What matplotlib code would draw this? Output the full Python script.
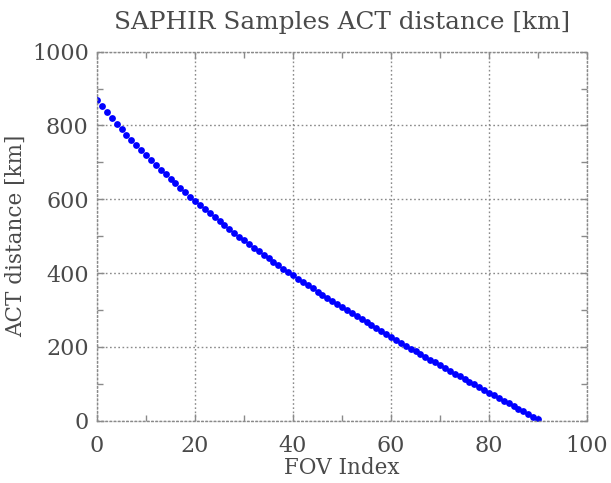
import numpy as np
import matplotlib
matplotlib.use('Agg')
import matplotlib.pyplot as plt
from matplotlib.ticker import MultipleLocator

# 字型設定
plt.rcParams['font.family'] = ['DejaVu Serif']
plt.rcParams['font.size'] = 16

# FOV index 0..90 and across-track distance [km]
fov_index = list(range(91))
act_distance = [
    867.8, 851.5, 835.6, 820.1, 804.9,
    790.0, 775.4, 761.1, 747.0, 733.1,
    719.4, 706.0, 692.9, 680.0, 667.4,
    655.1, 642.9, 630.9, 619.0, 607.3,
    595.8, 584.5, 573.3, 562.3, 551.4,
    540.6, 530.0, 519.5, 509.2, 499.0,
    488.9, 479.0, 469.2, 459.5, 449.8,
    440.2, 430.8, 421.5, 412.3, 403.1,
    393.9, 384.9, 376.0, 367.2, 358.5,
    349.8, 341.2, 332.7, 324.2, 315.7,
    307.2, 298.9, 290.7, 282.5, 274.4,
    266.3, 258.3, 250.3, 242.4, 234.5,
    226.6, 218.8, 211.0, 203.3, 195.6,
    188.0, 180.4, 172.8, 165.2, 157.7,
    150.2, 142.7, 135.2, 127.8, 120.4,
    113.0, 105.6, 98.2, 90.8, 83.5,
    76.2, 68.9, 61.6, 54.3, 47.1,
    39.9, 32.6, 25.3, 18.0, 10.8,
    3.6,
]
x_ticks = [0, 20, 40, 60, 80, 100]
y_ticks = [0, 200, 400, 600, 800, 1000]

TEXT = '#4a4a4a'
GRID = '#8a8a8a'

fig = plt.figure(figsize=(6.11, 4.83), dpi=100)
ax = fig.add_axes([0.1588, 0.129, 0.802, 0.764])

ax.plot(fov_index, act_distance, linestyle='none', marker='o',
        markersize=4.9, color='#0000ff', markeredgewidth=0)

ax.set_xlim(0, 100)
ax.set_ylim(0, 1000)
ax.set_xticks(x_ticks)
ax.set_yticks(y_ticks)
ax.xaxis.set_minor_locator(MultipleLocator(10))
ax.yaxis.set_minor_locator(MultipleLocator(100))

# 虛線格線 (IDL 風格)
ax.grid(True, which='major', linestyle=(0, (1.2, 1.8)), color=GRID, linewidth=1.0)
for s in ax.spines.values():
    s.set_linestyle((0, (1.2, 1.8)))
    s.set_color(GRID)
    s.set_linewidth(1.0)

ax.tick_params(which='both', direction='in', top=True, right=True,
               color=GRID, labelcolor=TEXT, width=1.0)
ax.tick_params(which='major', length=5)
ax.tick_params(which='minor', length=4)
ax.tick_params(axis='y', which='major', pad=6)
ax.tick_params(axis='x', which='major', pad=10.5)

ax.set_title('SAPHIR Samples ACT distance [km]', color=TEXT, pad=16, fontsize=17.8)
ax.set_xlabel('FOV Index', color=TEXT, labelpad=0, fontsize=15.5)
ax.set_ylabel('ACT distance [km]', color=TEXT, fontsize=15.5)
ax.yaxis.set_label_coords(-0.143, 0.5)

fig.savefig('out.png', dpi=100)
